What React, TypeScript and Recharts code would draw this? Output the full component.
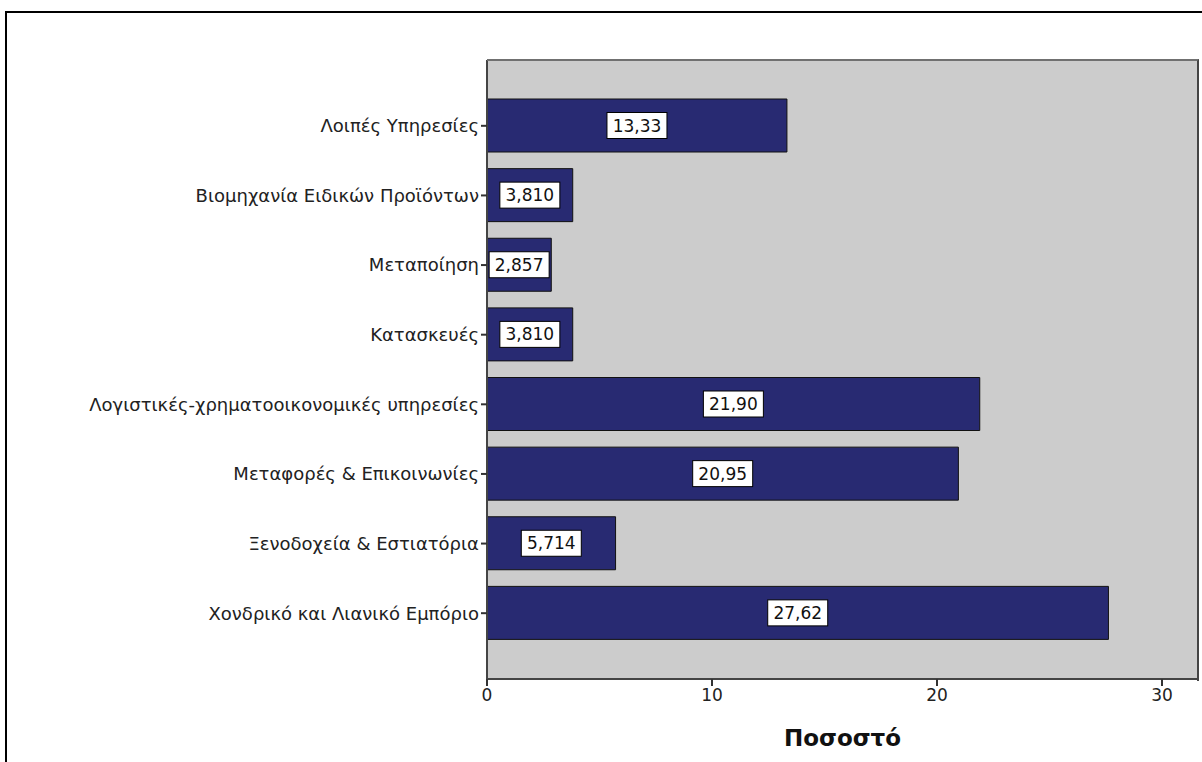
import { BarChart, Bar, XAxis, YAxis, CartesianGrid, LabelList } from "recharts";

const categories = [
  "Λοιπές Υπηρεσίες",
  "Βιομηχανία Ειδικών Προϊόντων",
  "Μεταποίηση",
  "Κατασκευές",
  "Λογιστικές-χρηματοοικονομικές υπηρεσίες",
  "Μεταφορές & Επικοινωνίες",
  "Ξενοδοχεία & Εστιατόρια",
  "Χονδρικό και Λιανικό Εμπόριο",
];
const percents = [13.33, 3.81, 2.857, 3.81, 21.9, 20.95, 5.714, 27.62];
const xTicks = [0, 10, 20, 30];
const xMax = 31.6;

const data = categories.map((name, i) => ({ name, value: percents[i] }));

// SPSS style: 4 significant digits, comma decimal
const fmt = (v: number) => (v < 10 ? v.toFixed(3) : v.toFixed(2)).replace(".", ",");

const FONT = "'DejaVu Sans', sans-serif";

function ValueBox(props: any) {
  const { x, y, width, height, value } = props;
  const cx = x + width / 2;
  const cy = y + height / 2;
  const w = 60;
  const h = 26;
  return (
    <g>
      <rect x={cx - w / 2} y={cy - h / 2} width={w} height={h} fill="#fff" stroke="#000" strokeWidth={1} />
      <text x={cx} y={cy} dy="0.36em" textAnchor="middle" fontFamily={FONT} fontSize={17} fill="#111">
        {fmt(value)}
      </text>
    </g>
  );
}

export default function App() {
  return (
    <div
      style={{
        position: "fixed",
        left: 0,
        top: 0,
        width: 1202,
        height: 762,
        overflow: "hidden",
        background: "#fff",
      }}
    >
      <div
        style={{
          position: "absolute",
          left: 5,
          top: 11,
          width: 1220,
          height: 800,
          borderLeft: "2px solid #000",
          borderTop: "2px solid #000",
        }}
      />
      <div style={{ position: "absolute", left: 0, top: 0 }}>
        <BarChart
          width={1202}
          height={762}
          data={data}
          layout="vertical"
          margin={{ top: 60, right: 4, bottom: 0, left: 0 }}
          barSize={53}
        >
          <CartesianGrid fill="#cccccc" horizontal={false} vertical={false} />
          <XAxis
            type="number"
            domain={[0, xMax]}
            ticks={xTicks}
            height={83}
            tickSize={7}
            tickMargin={3}
            axisLine={{ stroke: "#444", strokeWidth: 2 }}
            tickLine={{ stroke: "#333", strokeWidth: 2 }}
            tick={{ fill: "#222", fontSize: 17, fontFamily: FONT }}
            label={{
              value: "Ποσοστό",
              position: "insideBottom",
              offset: 16,
              style: { fontFamily: FONT, fontSize: 23, fontWeight: "bold", fill: "#111" },
            }}
          />
          <YAxis
            type="category"
            dataKey="name"
            width={487}
            padding={{ top: 31, bottom: 31 }}
            tickSize={6}
            axisLine={{ stroke: "#444", strokeWidth: 2 }}
            tickLine={{ stroke: "#333", strokeWidth: 2 }}
            tick={{ fill: "#222", fontSize: 18, fontFamily: FONT }}
            interval={0}
          />
          <Bar dataKey="value" fill="#282a72" stroke="#111" strokeWidth={1} isAnimationActive={false}>
            <LabelList dataKey="value" content={ValueBox} />
          </Bar>
        </BarChart>
      </div>
      {/* plot frame: top and right edges */}
      <div
        style={{
          position: "absolute",
          left: 487,
          top: 59,
          width: 710,
          height: 620,
          borderTop: "2px solid #707070",
          borderRight: "2px solid #444",
          pointerEvents: "none",
        }}
      />
    </div>
  );
}
